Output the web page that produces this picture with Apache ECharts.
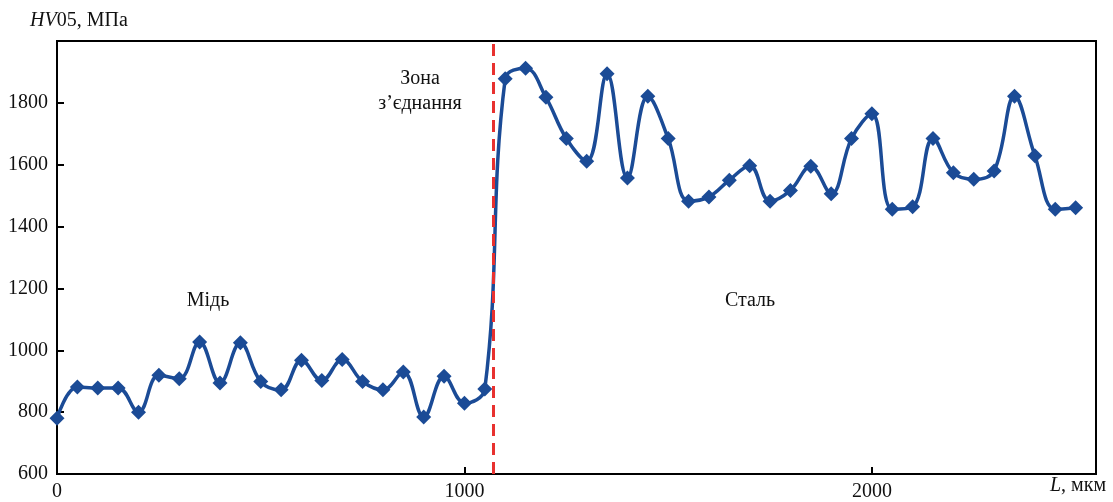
<!DOCTYPE html>
<html>
<head>
<meta charset="utf-8">
<script src="https://cdn.jsdelivr.net/npm/echarts@6/dist/echarts.min.js"></script>
<style>
  html, body { margin: 0; padding: 0; background: #fff; }
  #chart { width: 1113px; height: 502px; }
</style>
</head>
<body>
<div id="chart"></div>
<script>
// відстань L, мкм (крок 50)
const distance = [
  0, 50, 100, 150, 200, 250, 300, 350, 400, 450, 500, 550, 600, 650, 700, 750, 800, 850, 900, 950, 1000, 1050,
  1100, 1150, 1200, 1250, 1300, 1350, 1400, 1450, 1500, 1550, 1600, 1650, 1700, 1750, 1800, 1850, 1900, 1950,
  2000, 2050, 2100, 2150, 2200, 2250, 2300, 2350, 2400, 2450, 2500
]
// мідь, 0..1050 мкм
const copperHV = [780, 881, 878, 878, 800, 919, 908, 1027, 894, 1024, 899, 872, 968, 902, 970, 899, 872, 930, 784, 916, 829, 875]
// сталь, 1100..2500 мкм
const steelHV = [1878, 1912, 1818, 1685, 1611, 1894, 1557, 1821, 1685, 1482, 1496, 1550, 1597, 1482, 1517,
  1595, 1506, 1685, 1765, 1456, 1464, 1685, 1574, 1553, 1580, 1821, 1629, 1456, 1461]
const jointX = 1070
const yTicks = [600, 800, 1000, 1200, 1400, 1600, 1800]
const xTicks = [0, 1000, 2000]

const hardness = copperHV.concat(steelHV)
const points = distance.map((x, i) => [x, hardness[i]])

const font = 'Liberation Serif, Times New Roman, serif'
const chart = echarts.init(document.getElementById('chart'))

const option = {
  animation: false,
  grid: {
    left: 57,
    right: 17,
    top: 41,
    bottom: 28,
    show: true,
    borderColor: '#000',
    borderWidth: 2
  },
  xAxis: {
    type: 'value',
    min: 0,
    max: 2550,
    interval: 1000,
    splitLine: { show: false },
    axisLine: { lineStyle: { color: '#000', width: 2 } },
    axisTick: { inside: true, length: 7, lineStyle: { color: '#000', width: 2 } },
    axisLabel: {
      showMaxLabel: false,
      margin: 8,
      color: '#111',
      fontFamily: font,
      fontSize: 20,
      formatter: (v) => (xTicks.includes(v) ? String(v) : '')
    }
  },
  yAxis: {
    type: 'value',
    min: 600,
    max: 2000,
    interval: 200,
    splitLine: { show: false },
    axisLine: { lineStyle: { color: '#000', width: 2 } },
    axisTick: { inside: true, length: 7, lineStyle: { color: '#000', width: 2 } },
    axisLabel: {
      showMaxLabel: false,
      margin: 9,
      color: '#111',
      fontFamily: font,
      fontSize: 20,
      formatter: (v) => (yTicks.includes(v) ? String(v) : '')
    }
  },
  graphic: [
    {
      type: 'text',
      left: 30,
      top: 11,
      style: {
        text: '{i|HV}05, МПа',
        fill: '#111',
        font: '20px ' + font,
        rich: { i: { fontStyle: 'italic', fontFamily: font, fontSize: 20, fill: '#111' } }
      }
    },
    {
      type: 'text',
      left: 1050,
      top: 476,
      style: {
        text: '{i|L}, мкм',
        fill: '#111',
        font: '20px ' + font,
        rich: { i: { fontStyle: 'italic', fontFamily: font, fontSize: 20, fill: '#111' } }
      }
    },
    {
      type: 'text',
      x: 420,
      y: 66,
      style: {
        text: 'Зона\nз’єднання',
        fill: '#111',
        align: 'center',
        lineHeight: 25,
        font: '20px ' + font
      }
    },
    {
      type: 'text',
      x: 208,
      y: 291,
      style: { text: 'Мідь', fill: '#111', align: 'center', font: '20px ' + font }
    },
    {
      type: 'text',
      x: 750,
      y: 291,
      style: { text: 'Сталь', fill: '#111', align: 'center', font: '20px ' + font }
    }
  ],
  series: [
    {
      type: 'line',
      data: points,
      smooth: 0.4,
      symbol: 'diamond',
      symbolSize: 15,
      itemStyle: { color: '#1b4b96' },
      lineStyle: { color: '#1b4b96', width: 3.5 },
      markLine: {
        silent: true,
        symbol: 'none',
        label: { show: false },
        lineStyle: { color: '#e8312f', width: 3, type: [12, 7] },
        data: [[{ coord: [jointX, 600] }, { coord: [jointX, 2000] }]]
      },
      z: 3
    }
  ]
}

chart.setOption(option)
</script>
</body>
</html>
